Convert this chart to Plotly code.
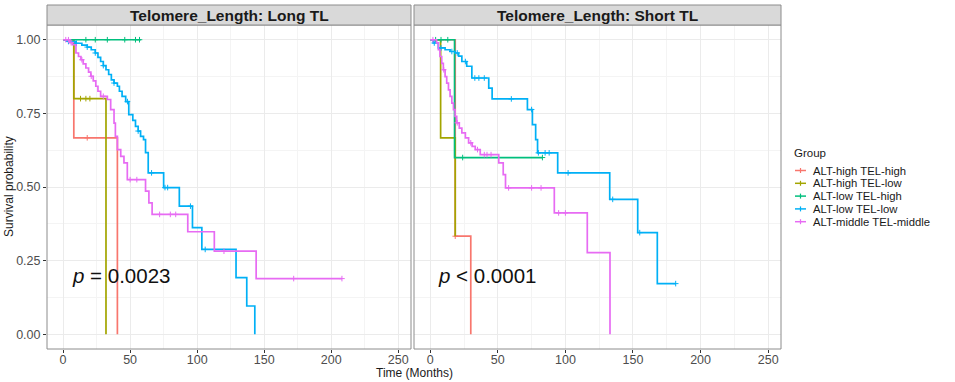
import plotly.graph_objects as go

# ---------------- data ----------------
GROUPS = ["ALT-high TEL-high", "ALT-high TEL-low", "ALT-low TEL-high",
          "ALT-low TEL-low", "ALT-middle TEL-middle"]
COLORS = ["#F8766D", "#A3A500", "#00BF7D", "#00B0F6", "#E76BF3"]
PANELS = ["Telomere_Length: Long TL", "Telomere_Length: Short TL"]
PVALUES = ["<i>p</i> = 0.0023", "<i>p</i> < 0.0001"]
X_TICKS = [0, 50, 100, 150, 200, 250]
Y_TICKS = [0.0, 0.25, 0.5, 0.75, 1.0]
Y_TICK_LABELS = ["0.00", "0.25", "0.50", "0.75", "1.00"]

# Long TL
long_hh_t = [0, 8, 40.5]
long_hh_s = [1, 0.667, 0]
long_hh_c = [18]
long_hl_t = [0, 8, 32]
long_hl_s = [1, 0.8, 0]
long_hl_c = [13, 17, 20]
long_lh_t = [0, 58]
long_lh_s = [1, 1]
long_lh_c = [17, 24, 33, 46, 54, 57]
long_ll_t = [0, 4, 9, 14, 18, 21, 24, 26, 28, 30, 32, 34, 36, 38, 40.5, 42, 44, 46.7, 49, 52,
             54, 56, 57.8, 60, 61.5, 63.5, 75, 86.7, 96.5, 103.5, 129, 137, 143]
long_ll_s = [1, 0.994, 0.988, 0.982, 0.975, 0.966, 0.955, 0.94, 0.926, 0.912,
             0.898, 0.882, 0.864, 0.853, 0.842, 0.825, 0.808, 0.79, 0.746, 0.726,
             0.706, 0.69, 0.672, 0.661, 0.617, 0.548, 0.498, 0.435, 0.362, 0.288,
             0.192, 0.096, 0]
long_ll_c = [4, 10, 18, 24, 30, 38, 48, 56, 66, 76, 78, 95, 106]
long_mm_t = [0, 5, 7, 9.6, 11.5, 13.3, 15, 17, 19, 20.7, 22.5, 24.4, 26, 28, 33, 35.5, 38, 39,
             40.5, 43, 45.4, 47.9, 61.5, 64, 66.4, 93, 112.8, 144, 208]
long_mm_s = [1, 0.99, 0.983, 0.955, 0.943, 0.932, 0.918, 0.904, 0.89, 0.876,
             0.86, 0.842, 0.825, 0.808, 0.797, 0.763, 0.717, 0.672, 0.627, 0.604,
             0.582, 0.525, 0.486, 0.446, 0.407, 0.348, 0.282, 0.189, 0.189]
long_mm_c = [2, 4, 6, 14, 21, 30, 50, 55, 72, 80, 84, 120, 172, 208]

# Short TL
short_hh_t = [0, 18.5, 30]
short_hh_s = [1, 0.333, 0]
short_hh_c = [18.5]
short_hl_t = [0, 7.7, 18.5]
short_hl_s = [1, 0.667, 0.333]
short_hl_c = []
short_lh_t = [0, 18, 83]
short_lh_s = [1, 0.6, 0.6]
short_lh_c = [4, 8, 13, 24, 83]
short_ll_t = [0, 2.2, 6, 11, 14.7, 18.4, 21, 23.4, 27, 30.8, 43.3, 45.8, 71.9, 75.6, 78, 79.4,
              94.3, 132.8, 153.5, 168, 181.6]
short_ll_s = [1, 0.989, 0.972, 0.966, 0.96, 0.955, 0.944, 0.926, 0.91, 0.87, 0.836, 0.799,
              0.763, 0.712, 0.661, 0.616, 0.548, 0.458, 0.345, 0.172, 0.172]
short_ll_c = [3, 8, 16, 20, 26, 33, 36, 40, 60, 75, 80, 85, 88, 102, 135, 155, 181.6]
short_mm_t = [0, 4.7, 6, 7.2, 8.5, 9.7, 11, 12.2, 13.5, 14.7, 16, 17.2, 18.4, 19.6, 21.5, 23.4,
              26, 28.4, 31, 33.3, 37, 50.7, 54, 55.7, 91.8, 116.2, 133]
short_mm_s = [1, 0.989, 0.966, 0.943, 0.92, 0.898, 0.875, 0.853, 0.83, 0.808,
              0.785, 0.763, 0.74, 0.718, 0.7, 0.684, 0.667, 0.65, 0.638, 0.627,
              0.61, 0.582, 0.542, 0.497, 0.412, 0.277, 0]
short_mm_c = [2, 10, 20, 30, 35, 40, 42, 45, 58, 75, 82, 95, 100]

CURVES = [
    [(long_hh_t, long_hh_s, long_hh_c), (long_hl_t, long_hl_s, long_hl_c),
     (long_lh_t, long_lh_s, long_lh_c), (long_ll_t, long_ll_s, long_ll_c),
     (long_mm_t, long_mm_s, long_mm_c)],
    [(short_hh_t, short_hh_s, short_hh_c), (short_hl_t, short_hl_s, short_hl_c),
     (short_lh_t, short_lh_s, short_lh_c), (short_ll_t, short_ll_s, short_ll_c),
     (short_mm_t, short_mm_s, short_mm_c)],
]

# ---------------- layout geometry (pixels) ----------------
W, H = 955, 382
ML, MR, MT, MB = 47, 174, 25, 33
PW = W - ML - MR
PH = H - MT - MB
FONT = "Liberation Sans, Arial, sans-serif"


def px_x(p):
    return (p - ML) / PW


def px_y(p):
    return (H - MB - p) / PH


def step_val(ts, ss, c):
    v = ss[0]
    for t, s in zip(ts, ss):
        if t <= c:
            v = s
    return v


fig = go.Figure()

for pi, panel in enumerate(CURVES):
    xa = "x" if pi == 0 else "x2"
    ya = "y" if pi == 0 else "y2"
    for gi, (ts, ss, cs) in enumerate(panel):
        fig.add_trace(go.Scatter(
            x=ts, y=ss, mode="lines", line=dict(color=COLORS[gi], width=1.7, shape="hv"),
            xaxis=xa, yaxis=ya, showlegend=False, hoverinfo="skip"))
        if cs:
            fig.add_trace(go.Scatter(
                x=cs, y=[step_val(ts, ss, c) for c in cs], mode="markers",
                marker=dict(symbol="cross-thin", size=4, line=dict(color=COLORS[gi], width=1)),
                xaxis=xa, yaxis=ya, showlegend=False, hoverinfo="skip"))

split = (411 - ML) / PW
split2 = (414 - ML) / PW
xcommon = dict(range=[-12, 259.5], tickvals=X_TICKS, ticktext=[str(v) for v in X_TICKS],
               showgrid=True, gridcolor="#EBEBEB", gridwidth=1, zeroline=False,
               ticks="outside", ticklen=3, tickcolor="#333333", tickwidth=1,
               ticklabelstandoff=-4,
               tickfont=dict(family=FONT, size=12.5, color="#4D4D4D"),
               minor=dict(dtick=25, tick0=0, showgrid=True, gridcolor="#F4F4F4", gridwidth=0.6),
               showline=False)
ycommon = dict(range=[-0.05, 1.05], tickvals=Y_TICKS, ticktext=Y_TICK_LABELS,
               showgrid=True, gridcolor="#EBEBEB", gridwidth=1, zeroline=False,
               minor=dict(dtick=0.125, tick0=0, showgrid=True, gridcolor="#F4F4F4", gridwidth=0.6),
               showline=False)

shapes = []
annotations = []
for pi, name in enumerate(PANELS):
    xr = "x domain" if pi == 0 else "x2 domain"
    shapes.append(dict(type="rect", xref=xr, yref="paper", x0=0, x1=1, y0=0, y1=1,
                       line=dict(color="#8C8C8C", width=1), layer="above"))
    shapes.append(dict(type="rect", xref=xr, yref="paper", x0=0, x1=1, y0=1,
                       y1=px_y(5), fillcolor="#D9D9D9", line=dict(color="#8C8C8C", width=1)))
    annotations.append(dict(xref=xr, yref="paper", x=0.5, y=px_y(15), text="<b>" + name + "</b>",
                            showarrow=False, font=dict(family=FONT, size=15.5, color="#1A1A1A"),
                            xanchor="center", yanchor="middle"))
    annotations.append(dict(xref="x" if pi == 0 else "x2", yref="y" if pi == 0 else "y2",
                            x=5 if pi == 0 else 4.5, y=0.2, text=PVALUES[pi], showarrow=False,
                            xanchor="left", yanchor="middle",
                            font=dict(family=FONT, size=20.5, color="#111111")))

# axis titles
annotations.append(dict(xref="paper", yref="paper", x=px_x(414), y=px_y(373),
                        text="Time (Months)", showarrow=False,
                        font=dict(family=FONT, size=12, color="#1A1A1A"),
                        xanchor="center", yanchor="middle"))
annotations.append(dict(xref="paper", yref="paper", x=px_x(9), y=px_y(187),
                        text="Survival probability", showarrow=False, textangle=-90,
                        font=dict(family=FONT, size=12, color="#1A1A1A"),
                        xanchor="center", yanchor="middle"))

# legend (drawn manually)
annotations.append(dict(xref="paper", yref="paper", x=px_x(793), y=px_y(153),
                        text="Group", showarrow=False, xanchor="left", yanchor="middle",
                        borderpad=0,
                        font=dict(family=FONT, size=11.5, color="#1A1A1A")))
leg_y = [170.5, 183.3, 196.1, 208.9, 221.7]
for gi, g in enumerate(GROUPS):
    yy = px_y(leg_y[gi])
    shapes.append(dict(type="line", xref="paper", yref="paper", x0=px_x(795), x1=px_x(806),
                       y0=yy, y1=yy, line=dict(color=COLORS[gi], width=1.5)))
    shapes.append(dict(type="line", xref="paper", yref="paper", x0=px_x(800.5), x1=px_x(800.5),
                       y0=px_y(leg_y[gi] - 2.5), y1=px_y(leg_y[gi] + 2.5),
                       line=dict(color=COLORS[gi], width=1.2)))
    annotations.append(dict(xref="paper", yref="paper", x=px_x(812), y=yy, text=g,
                            showarrow=False, xanchor="left", yanchor="middle",
                            borderpad=0,
                            font=dict(family=FONT, size=11.3, color="#1A1A1A")))

fig.update_layout(
    width=W, height=H,
    margin=dict(l=ML, r=MR, t=MT, b=MB, pad=0),
    paper_bgcolor="white", plot_bgcolor="white",
    showlegend=False,
    xaxis=dict(domain=[0, split], anchor="y", **xcommon),
    xaxis2=dict(domain=[split2, 1], anchor="y2", **xcommon),
    yaxis=dict(domain=[0, 1], anchor="x", ticks="outside", ticklen=3, tickcolor="#333333",
               tickwidth=1, tickfont=dict(family=FONT, size=12.5, color="#4D4D4D"), **ycommon),
    yaxis2=dict(domain=[0, 1], anchor="x2", showticklabels=False, ticks="", **ycommon),
    shapes=shapes, annotations=annotations,
    font=dict(family=FONT),
)

fig.write_html("out.html")
